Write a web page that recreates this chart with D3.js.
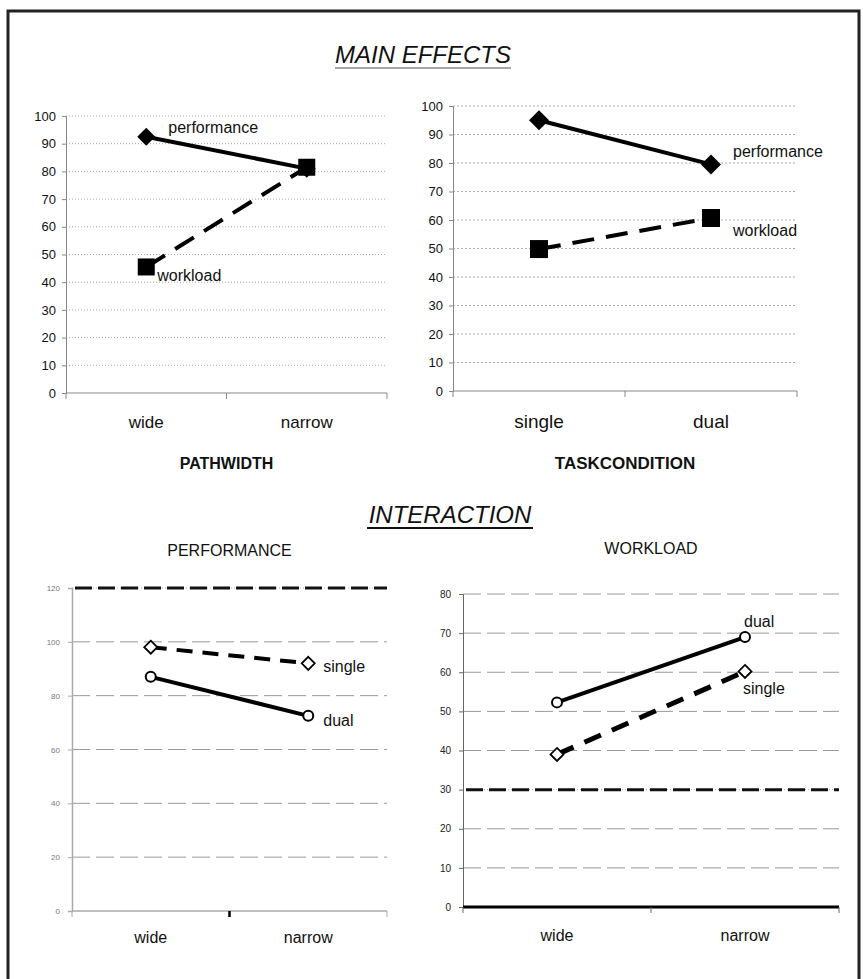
<!DOCTYPE html>
<html>
<head>
<meta charset="utf-8">
<script src="https://cdn.jsdelivr.net/npm/d3@7"></script>
<style>
  body { margin: 0; background: #fff; }
  text { font-family: "Liberation Sans", Arial, sans-serif; }
</style>
</head>
<body>
<svg id="chart" width="863" height="979"></svg>
<script>
// main effects data
const pathCats = ["wide", "narrow"];
const pathPerf = [92.5, 81];
const pathWork = [45.5, 81.5];

const taskCats = ["single", "dual"];
const taskPerf = [95, 79.5];
const taskWork = [49.8, 60.7];

// interaction data
const interCats = ["wide", "narrow"];
const perfSingle = [98, 92];
const perfDual = [87, 72.5];
const workDual = [52.3, 69];
const workSingle = [39, 60.2];

// tick labels
const ticks100 = [0, 10, 20, 30, 40, 50, 60, 70, 80, 90, 100];
const ticks120 = [0, 20, 40, 60, 80, 100, 120];
const ticks80 = [0, 10, 20, 30, 40, 50, 60, 70, 80];

const svg = d3.select("#chart");

// outer frame
svg.append("rect")
  .attr("x", 8).attr("y", 11)
  .attr("width", 851).attr("height", 990)
  .attr("fill", "none").attr("stroke", "#222").attr("stroke-width", 3);

function title(txt, x, y, w, ulColor, ulWidth) {
  svg.append("text").attr("x", x).attr("y", y)
    .attr("text-anchor", "middle").attr("font-size", 24)
    .attr("font-style", "italic").attr("fill", "#111").text(txt);
  svg.append("line").attr("x1", x - w / 2).attr("x2", x + w / 2)
    .attr("y1", y + 5).attr("y2", y + 5)
    .attr("stroke", ulColor).attr("stroke-width", ulWidth);
}
title("MAIN EFFECTS", 423, 63, 176, "#888", 1.5);
title("INTERACTION", 450, 523, 166, "#111", 2);

function panel(cfg) {
  const x = d3.scaleBand().domain(cfg.cats).range(cfg.xr);
  const y = d3.scaleLinear().domain(cfg.dom).range(cfg.yr);
  const cx = c => x(c) + x.bandwidth() / 2;
  const g = svg.append("g");

  // grid
  const lines = cfg.ticks.filter(t => t > 0);
  g.selectAll(".grid").data(lines).join("line")
    .attr("x1", cfg.xr[0]).attr("x2", cfg.xr[1])
    .attr("y1", d => y(d)).attr("y2", d => y(d))
    .attr("stroke", d => d === cfg.heavy ? "#aaa" : cfg.gridColor)
    .attr("stroke-width", 1)
    .attr("stroke-dasharray", d => d === cfg.heavy ? "1,2" : cfg.gridDash);
  // heavy reference line (black dashes over a dotted grey line)
  g.selectAll(".heavy").data(lines.filter(d => d === cfg.heavy)).join("line")
    .attr("x1", cfg.xr[0] + 3).attr("x2", cfg.xr[1])
    .attr("y1", d => y(d)).attr("y2", d => y(d))
    .attr("stroke", "#111").attr("stroke-width", 3)
    .attr("stroke-dasharray", "17,6");

  // y axis
  const ya = g.append("g").attr("transform", `translate(${cfg.xr[0]},0)`)
    .call(d3.axisLeft(y).tickValues(cfg.ticks).tickSize(4).tickPadding(cfg.pad));
  ya.select(".domain").attr("stroke", cfg.axisColor).attr("stroke-width", cfg.yaxW);
  ya.selectAll(".tick line").attr("stroke", cfg.axisColor);
  ya.selectAll("text").attr("font-size", cfg.tickSize).attr("fill", cfg.tickColor)
    .attr("font-family", "Liberation Sans, Arial, sans-serif");

  // x axis line and boundary ticks
  g.append("line").attr("x1", cfg.xr[0]).attr("x2", cfg.xr[1])
    .attr("y1", y(0)).attr("y2", y(0))
    .attr("stroke", cfg.xaxColor).attr("stroke-width", cfg.xaxW);
  const bounds = cfg.cats.map(c => x(c)).concat([cfg.xr[1]]);
  g.selectAll(".xt").data(bounds).join("line")
    .attr("x1", d => d).attr("x2", d => d)
    .attr("y1", y(0)).attr("y2", y(0) + 6)
    .attr("stroke", (d, i) => i === 1 ? cfg.midTick : cfg.axisColor)
    .attr("stroke-width", (d, i) => i === 1 ? cfg.midTickW : 1);

  // category labels
  g.selectAll(".cl").data(cfg.cats).join("text")
    .attr("x", d => cx(d)).attr("y", cfg.catY)
    .attr("text-anchor", "middle").attr("font-size", cfg.catSize)
    .attr("fill", "#111").text(d => d);

  // series
  const line = d3.line().x((d, i) => cx(cfg.cats[i])).y(d => y(d));
  cfg.series.forEach(s => {
    g.append("path").datum(s.values).attr("d", line)
      .attr("fill", "none").attr("stroke", "#000")
      .attr("stroke-width", s.width)
      .attr("stroke-dasharray", s.dash || null);
    s.values.forEach((v, i) => {
      const px = cx(cfg.cats[i]), py = y(v);
      const m = s.markers[i];
      if (m === "square") {
        g.append("rect").attr("x", px - s.size / 2).attr("y", py - s.size / 2)
          .attr("width", s.size).attr("height", s.size).attr("fill", "#000");
      } else if (m === "diamond") {
        const r = s.size / 2;
        g.append("path").attr("d", `M${px},${py - r}L${px + r},${py}L${px},${py + r}L${px - r},${py}Z`)
          .attr("fill", s.open ? "#fff" : "#000")
          .attr("stroke", "#000").attr("stroke-width", s.open ? 1.8 : 0);
      } else if (m === "circle") {
        g.append("circle").attr("cx", px).attr("cy", py).attr("r", s.size / 2)
          .attr("fill", "#fff").attr("stroke", "#000").attr("stroke-width", 2);
      }
    });
    g.append("text")
      .attr("x", cx(cfg.cats[s.labelAt]) + s.lx)
      .attr("y", y(s.values[s.labelAt]) + s.ly)
      .attr("font-size", 16).attr("fill", "#111").text(s.name);
  });

  if (cfg.axisTitle) {
    g.append("text").attr("x", (cfg.xr[0] + cfg.xr[1]) / 2).attr("y", cfg.titleY)
      .attr("text-anchor", "middle").attr("font-size", cfg.titleSize)
      .attr("font-weight", cfg.titleBold ? "bold" : "normal")
      .attr("fill", "#111").text(cfg.axisTitle);
  }
}

panel({
  cats: pathCats, xr: [66, 387], yr: [393, 116], dom: [0, 100], ticks: ticks100,
  gridColor: "#aaa", gridDash: "1,2", heavy: null, pad: 6,
  axisColor: "#888", yaxW: 1, xaxColor: "#888", xaxW: 1, midTick: "#888", midTickW: 1,
  tickSize: 13, tickColor: "#111", catY: 428, catSize: 17,
  axisTitle: "PATHWIDTH", titleY: 469, titleSize: 16, titleBold: true,
  series: [
    { name: "performance", values: pathPerf, width: 4, markers: ["diamond", "diamond"], size: 18, labelAt: 0, lx: 22, ly: -4 },
    { name: "workload", values: pathWork, width: 4, dash: "22,12", markers: ["square", "square"], size: 17, labelAt: 0, lx: 11, ly: 14 }
  ]
});

panel({
  cats: taskCats, xr: [453, 797], yr: [391, 106], dom: [0, 100], ticks: ticks100,
  gridColor: "#aaa", gridDash: "2,2", heavy: null, pad: 6,
  axisColor: "#888", yaxW: 1, xaxColor: "#888", xaxW: 1, midTick: "#888", midTickW: 1,
  tickSize: 13, tickColor: "#111", catY: 428, catSize: 19,
  axisTitle: "TASKCONDITION", titleY: 469, titleSize: 17, titleBold: true,
  series: [
    { name: "performance", values: taskPerf, width: 4, markers: ["diamond", "diamond"], size: 20, labelAt: 1, lx: 22, ly: -7 },
    { name: "workload", values: taskWork, width: 4, dash: "22,12", markers: ["square", "square"], size: 18, labelAt: 1, lx: 22, ly: 18 }
  ]
});

panel({
  cats: interCats, xr: [72, 387], yr: [911, 588], dom: [0, 120], ticks: ticks120,
  gridColor: "#999", gridDash: "18,6", heavy: 120, pad: 8,
  axisColor: "#aaa", yaxW: 1.5, xaxColor: "#aaa", xaxW: 1.5, midTick: "#000", midTickW: 2.5,
  tickSize: 8, tickColor: "#777", catY: 943, catSize: 16,
  axisTitle: "PERFORMANCE", titleY: 556, titleSize: 16, titleBold: false,
  series: [
    { name: "single", values: perfSingle, width: 4, dash: "16,10", markers: ["diamond", "diamond"], size: 13, open: true, labelAt: 1, lx: 15, ly: 9 },
    { name: "dual", values: perfDual, width: 4, markers: ["circle", "circle"], size: 10, labelAt: 1, lx: 15, ly: 10 }
  ]
});

panel({
  cats: interCats, xr: [463, 839], yr: [907, 594], dom: [0, 80], ticks: ticks80,
  gridColor: "#999", gridDash: "18,6", heavy: 30, pad: 8,
  axisColor: "#666", yaxW: 1, xaxColor: "#000", xaxW: 3, midTick: "#666", midTickW: 1,
  tickSize: 10, tickColor: "#222", catY: 941, catSize: 16,
  axisTitle: "WORKLOAD", titleY: 554, titleSize: 16, titleBold: false,
  series: [
    { name: "dual", values: workDual, width: 4, markers: ["circle", "circle"], size: 10, labelAt: 1, lx: -1, ly: -10 },
    { name: "single", values: workSingle, width: 5, dash: "18,12", markers: ["diamond", "diamond"], size: 13, open: true, labelAt: 1, lx: -2, ly: 23 }
  ]
});
</script>
</body>
</html>
